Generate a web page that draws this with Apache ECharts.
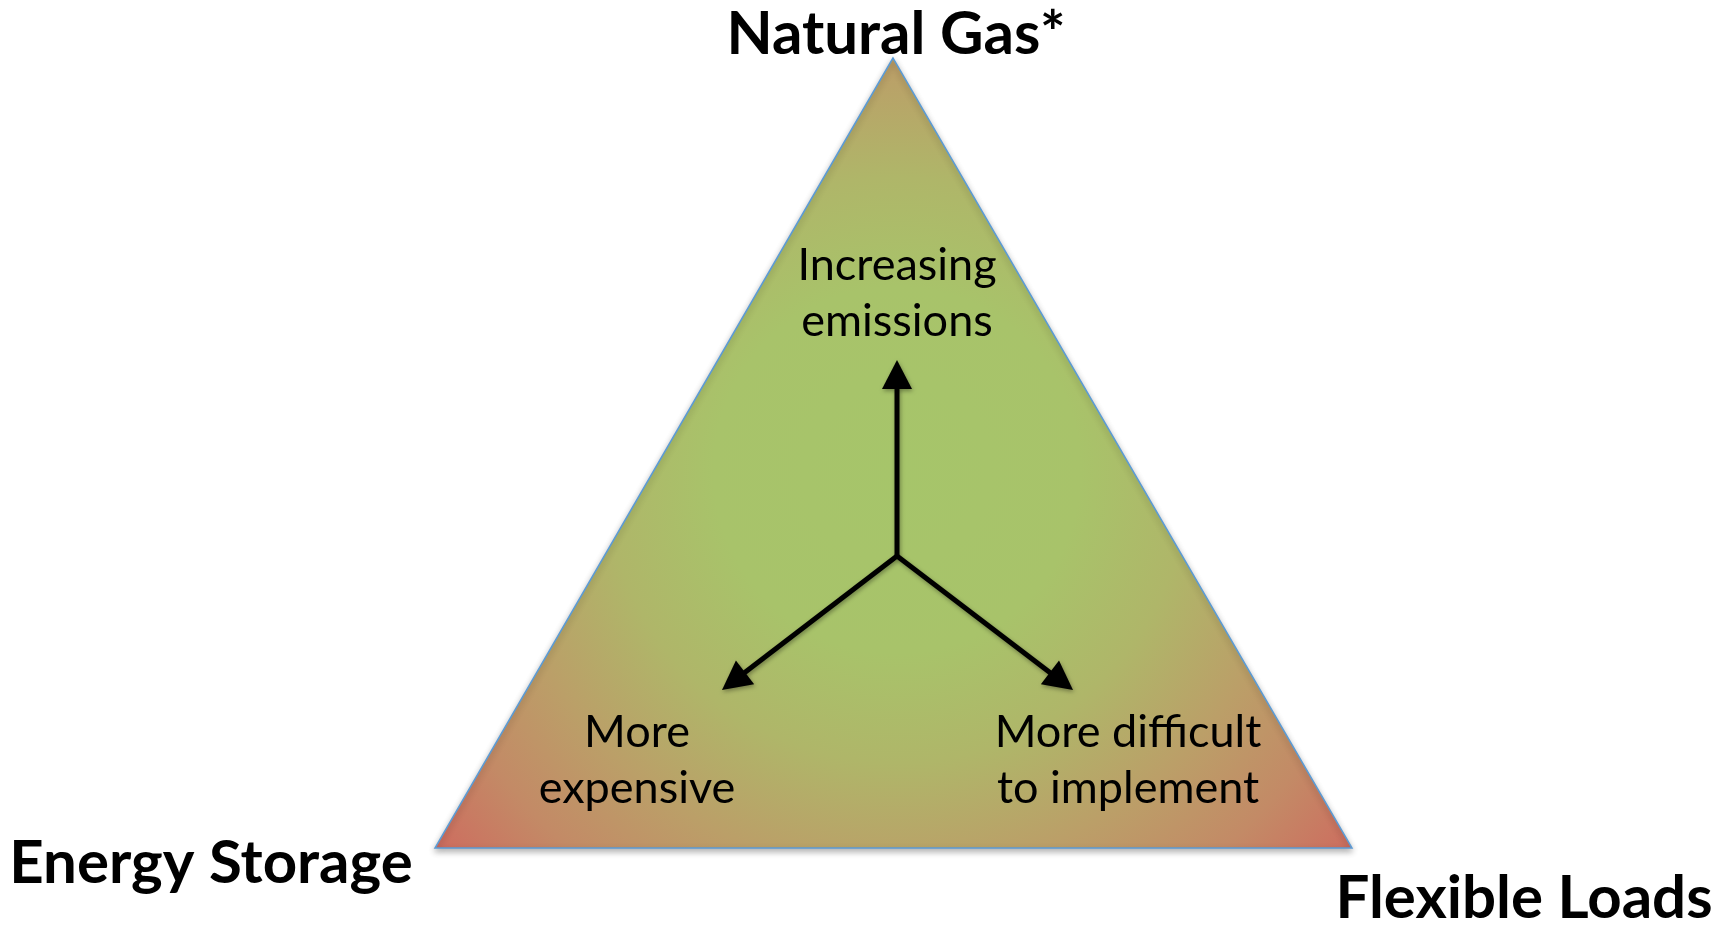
<!DOCTYPE html>
<html>
<head>
<meta charset="utf-8">
<script src="https://cdn.jsdelivr.net/npm/echarts@6/dist/echarts.min.js"></script>
<style>
html, body { margin: 0; padding: 0; background: #fff; }
#charts { width: 1723px; height: 926px; }
</style>
</head>
<body>
<div id="charts"></div>
<script>
// triangle corners (page units, y grows downward)
var cornerX = [893, 435, 1352];
var cornerY = [58, 848, 848];
// corner titles
var titleNames = ['Natural Gas*', 'Energy Storage', 'Flexible Loads'];
var titleX = [896, 211, 1524];
var titleY = [35, 864, 899];
// arrows: start point and tips
var arrowFrom = [897, 556];
var arrowTipX = [897, 722, 1073];
var arrowTipY = [360, 690, 690];
// inner labels
var innerNames = ['Increasing\nemissions', 'More\nexpensive', 'More difficult\nto implement'];
var innerX = [897, 637, 1128];
var innerY = [293, 760, 760];
// gradient centre
var glowCenter = [897, 470];

var myChart = echarts.init(document.getElementById('charts'));

var option = {
	animation: false,
	backgroundColor: '#ffffff',
	grid: { left: 0, right: 0, top: 0, bottom: 0 },
	xAxis: { type: 'value', min: 0, max: 1723, show: false },
	yAxis: { type: 'value', min: 0, max: 926, inverse: true, show: false },
	series: [
		{
			// the triangle
			type: 'custom',
			data: [0],
			renderItem: function(params, api) {
				var pts = [];
				for (var i = 0; i < cornerX.length; i++) {
					pts.push(api.coord([cornerX[i], cornerY[i]]));
				}
				var c = api.coord(glowCenter);
				var fill = new echarts.graphic.RadialGradient(c[0], c[1], 610, [
					{ offset: 0, color: '#a6c56a' },
					{ offset: 0.3, color: '#a8c36a' },
					{ offset: 0.48, color: '#afb669' },
					{ offset: 0.66, color: '#bb9f68' },
					{ offset: 0.82, color: '#c38a66' },
					{ offset: 1, color: '#cf685e' }
				], true);
				return {
					type: 'polygon',
					shape: { points: pts },
					style: {
						fill: fill,
						stroke: '#5b9bd5',
						lineWidth: 1.5,
						shadowBlur: 6,
						shadowOffsetY: 3,
						shadowColor: 'rgba(0,0,0,0.3)'
					}
				};
			}
		},
		{
			// arrows
			type: 'custom',
			data: arrowTipX.map(function(x, i) { return [arrowFrom[0], arrowFrom[1], x, arrowTipY[i]]; }),
			renderItem: function(params, api) {
				var p0 = api.coord([api.value(0), api.value(1)]);
				var p1 = api.coord([api.value(2), api.value(3)]);
				var dx = p1[0] - p0[0], dy = p1[1] - p0[1];
				var len = Math.sqrt(dx * dx + dy * dy);
				var ux = dx / len, uy = dy / len;
				var headLen = 29, headW = 15;
				var bx = p1[0] - ux * headLen, by = p1[1] - uy * headLen;
				var shadow = { shadowBlur: 4, shadowOffsetX: 1, shadowOffsetY: 2, shadowColor: 'rgba(0,0,0,0.35)' };
				return {
					type: 'group',
					children: [
						{
							type: 'line',
							shape: { x1: p0[0], y1: p0[1], x2: bx + ux * 2, y2: by + uy * 2 },
							style: Object.assign({ stroke: '#000', lineWidth: 5, lineCap: 'butt' }, shadow)
						},
						{
							type: 'polygon',
							shape: { points: [p1, [bx - uy * headW, by + ux * headW], [bx + uy * headW, by - ux * headW]] },
							style: Object.assign({ fill: '#000' }, shadow)
						}
					]
				};
			}
		},
		{
			// corner titles
			type: 'custom',
			data: titleNames.map(function(n, i) { return [titleX[i], titleY[i]]; }),
			renderItem: function(params, api) {
				var p = api.coord([api.value(0), api.value(1)]);
				return {
					type: 'text',
					x: p[0],
					y: p[1],
					style: {
						text: titleNames[params.dataIndex],
						fill: '#000',
						font: 'bold 60px Lato',
						align: 'center',
						verticalAlign: 'middle'
					}
				};
			}
		},
		{
			// inner labels
			type: 'custom',
			data: innerNames.map(function(n, i) { return [innerX[i], innerY[i]]; }),
			renderItem: function(params, api) {
				var p = api.coord([api.value(0), api.value(1)]);
				return {
					type: 'text',
					x: p[0],
					y: p[1],
					style: {
						text: innerNames[params.dataIndex],
						fill: '#000',
						fontFamily: 'Lato',
						fontSize: 45,
						lineHeight: 56,
						align: 'center',
						verticalAlign: 'middle'
					}
				};
			}
		}
	]
};

myChart.setOption(option);
</script>
</body>
</html>
